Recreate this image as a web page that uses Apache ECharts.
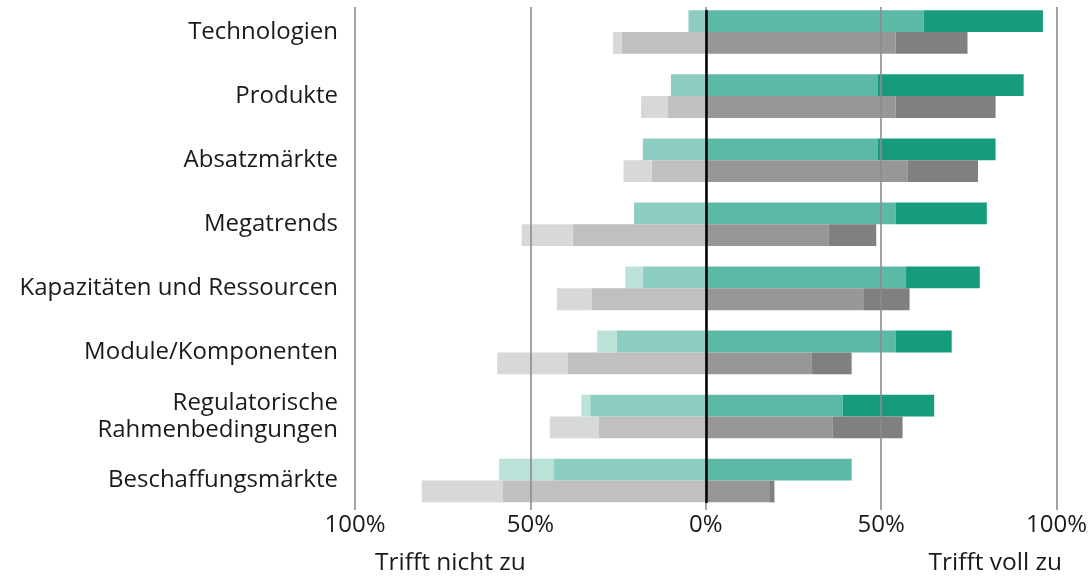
<!DOCTYPE html>
<html>
<head>
<meta charset="utf-8">
<script src="https://cdn.jsdelivr.net/npm/echarts@6/dist/echarts.min.js"></script>
<style>
html,body{margin:0;padding:0;background:#fff;}
#chart{width:1090px;height:579px;}
</style>
</head>
<body>
<div id="chart"></div>
<script>
const categories = ['Technologien','Produkte','Absatzmärkte','Megatrends','Kapazitäten und Ressourcen','Module/Komponenten','Regulatorische\nRahmenbedingungen','Beschaffungsmärkte'];
const tickValues = [-100,-50,0,50,100];
// green group (shares in %)
const greenNotAtAll   = [0, 0, 0, 0, 5, 5.5, 2.5, 15.5];
const greenRatherNot  = [5, 10, 18, 20.5, 18, 25.5, 33, 43.5];
const greenRather     = [62, 49, 49, 54, 57, 54, 39, 41.5];
const greenFully      = [34, 41.5, 33.5, 26, 21, 16, 26, 0];
// gray group (shares in %)
const grayNotAtAll    = [2.5, 7.5, 8, 14.5, 10, 20, 14, 23];
const grayRatherNot   = [24, 11, 15.5, 38, 32.5, 39.5, 30.5, 58];
const grayRather      = [54, 54, 57.5, 35, 45, 30, 36, 18];
const grayFully       = [20.5, 28.5, 20, 13.5, 13, 11.5, 20, 1.5];

const colors = {
  gFully:'#169c7c', gRather:'#5cb9a5', gRatherNot:'#8ecdc1', gNot:'#bbe2d9',
  kFully:'#808080', kRather:'#979797', kRatherNot:'#c0c0c0', kNot:'#d7d8da'
};
const neg = a => a.map(v => -v);
const BW = 21.8;
function bar(name, data, stack, color){
  return {name, type:'bar', stack, data, barWidth:BW, barGap:'0%', itemStyle:{color}, xAxisIndex:0, yAxisIndex:0, z:2, emphasis:{disabled:true}};
}
const FONT = 'Open Sans';
const chart = echarts.init(document.getElementById('chart'));
chart.setOption({
  animation:false,
  grid:[
    {left:355, right:33, top:0, bottom:66.4},
    {left:355, right:33, top:7, bottom:69},
    {left:355, right:33, top:11, bottom:77}
  ],
  xAxis:[
    {gridIndex:0, type:'value', min:-100, max:100, interval:50, axisLine:{show:false}, axisTick:{show:false}, axisLabel:{show:false}, splitLine:{show:false}},
    {gridIndex:1, type:'value', min:-100, max:100, interval:50, z:5, axisLine:{show:false}, axisTick:{show:false},
      axisLabel:{show:true, margin:3, fontFamily:FONT, fontSize:24, color:'#1a1a1a', formatter:v => Math.abs(v) + '%'},
      splitLine:{show:true, lineStyle:{color:'#8c8c8c', width:1.6}}},
    {gridIndex:2, type:'value', min:-100, max:100, interval:50, axisLine:{show:false}, axisTick:{show:false}, axisLabel:{show:false}, splitLine:{show:false}}
  ],
  yAxis:[
    {gridIndex:0, type:'category', data:categories, inverse:true, axisLine:{show:false}, axisTick:{show:false},
      axisLabel:{margin:17, fontFamily:FONT, fontSize:24, color:'#1a1a1a', lineHeight:27, padding:[0,0,4,0]}},
    {gridIndex:1, type:'category', data:categories, show:false},
    {gridIndex:2, type:'category', data:categories, z:6, axisTick:{show:false}, axisLabel:{show:false},
      axisLine:{show:true, onZero:true, lineStyle:{color:'#000', width:2.5}}}
  ],
  series:[
    bar('Trifft eher zu (A)', greenRather, 'g', colors.gRather),
    bar('Trifft voll zu (A)', greenFully, 'g', colors.gFully),
    bar('Trifft eher nicht zu (A)', neg(greenRatherNot), 'g', colors.gRatherNot),
    bar('Trifft nicht zu (A)', neg(greenNotAtAll), 'g', colors.gNot),
    bar('Trifft eher zu (B)', grayRather, 'k', colors.kRather),
    bar('Trifft voll zu (B)', grayFully, 'k', colors.kFully),
    bar('Trifft eher nicht zu (B)', neg(grayRatherNot), 'k', colors.kRatherNot),
    bar('Trifft nicht zu (B)', neg(grayNotAtAll), 'k', colors.kNot)
  ],
  graphic:[
    {type:'text', left:375, top:551, style:{text:'Trifft nicht zu', font:'24.5px "Open Sans"', fill:'#1a1a1a'}},
    {type:'text', right:28, top:551, style:{text:'Trifft voll zu', font:'24.5px "Open Sans"', fill:'#1a1a1a'}}
  ]
});
</script>
</body>
</html>
